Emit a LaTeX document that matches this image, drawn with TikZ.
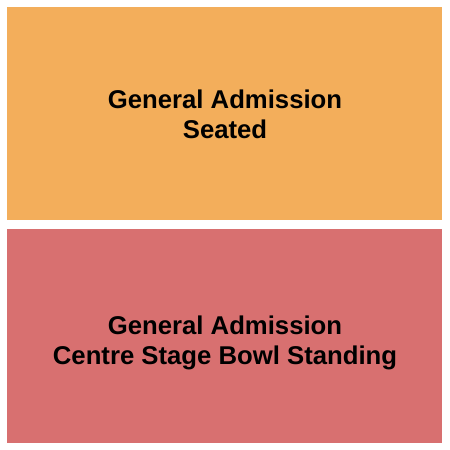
\documentclass[tikz,border=0pt]{standalone}
\usepackage{fontspec}
\setmainfont{Liberation Sans}
\definecolor{seatcol}{HTML}{F3AE5B}
\definecolor{standcol}{HTML}{D87070}
\begin{document}
\begin{tikzpicture}[x=1bp,y=-1bp,
  lbl/.style={font=\fontsize{25.8}{30}\selectfont\bfseries, align=center, text=black, inner sep=0pt}]
\useasboundingbox (0,0) rectangle (450,450);
\fill[white] (0,0) rectangle (450,450);
\fill[seatcol] (7,7) rectangle (442,220);
\fill[standcol] (7,229) rectangle (442,443);
\node[lbl] (seated) at (225,114) {General Admission\\Seated};
\node[lbl] (standing) at (225,343) {General Admission\\Centre Stage Bowl Standing};
\end{tikzpicture}
\end{document}
